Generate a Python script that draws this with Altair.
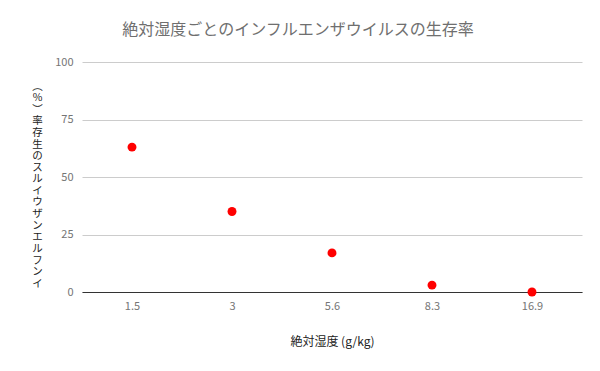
import altair as alt
import pandas as pd

humidity = ["1.5", "3", "5.6", "8.3", "16.9"]
survival = [63, 35, 17, 3, 0]

title_text = "絶対湿度ごとのインフルエンザウイルスの生存率"
x_title = "絶対湿度 (g/kg)"
y_title_lines = ["︵", "%", "︶"] + list("率存生のスルイウザンエルフンイ")

df = pd.DataFrame({"humidity": humidity, "survival": survival})

FONT = "Noto Sans CJK JP"

chart = alt.Chart(df).mark_circle(size=80, color="#ff0000", opacity=1).encode(
    x=alt.X(
        "humidity:N",
        sort=humidity,
        scale=alt.Scale(paddingInner=0, paddingOuter=0),
        axis=alt.Axis(
            title=x_title,
            labelAngle=0,
            labelFont=FONT,
            labelFontSize=11,
            labelColor="#757575",
            labelPadding=8,
            ticks=False,
            domain=True,
            domainColor="#333333",
            domainWidth=1.2,
            titleFont=FONT,
            titleFontSize=12,
            titleFontWeight="normal",
            titleColor="#222222",
            titlePadding=25,
        ),
    ),
    y=alt.Y(
        "survival:Q",
        scale=alt.Scale(domain=[0, 100]),
        axis=alt.Axis(
            title=y_title_lines,
            values=[0, 25, 50, 75, 100],
            labelFont=FONT,
            labelFontSize=11,
            labelColor="#757575",
            labelPadding=9,
            ticks=False,
            domain=False,
            gridColor="#cccccc",
            titleFont=FONT,
            titleFontSize=10.5,
            titleFontWeight="normal",
            titleColor="#222222",
            titleAngle=0,
            titleAlign="center",
            titleBaseline="top",
            titleX=-45,
            titleY=19,
            titleLineHeight=11.6,
        ),
    ),
).properties(
    width=500,
    height=230,
    title=alt.TitleParams(
        title_text,
        font=FONT,
        fontSize=16,
        fontWeight="normal",
        color="#6f6f6f",
        anchor="middle",
        dx=-34,
        offset=18,
    ),
    autosize=alt.AutoSizeParams(type="none"),
    padding={"left": 82, "top": 62, "right": 18, "bottom": 79},
).configure_view(stroke=None).configure_axisX(grid=False)

chart.save("out.html", embed_options={"renderer": "svg", "actions": False})
